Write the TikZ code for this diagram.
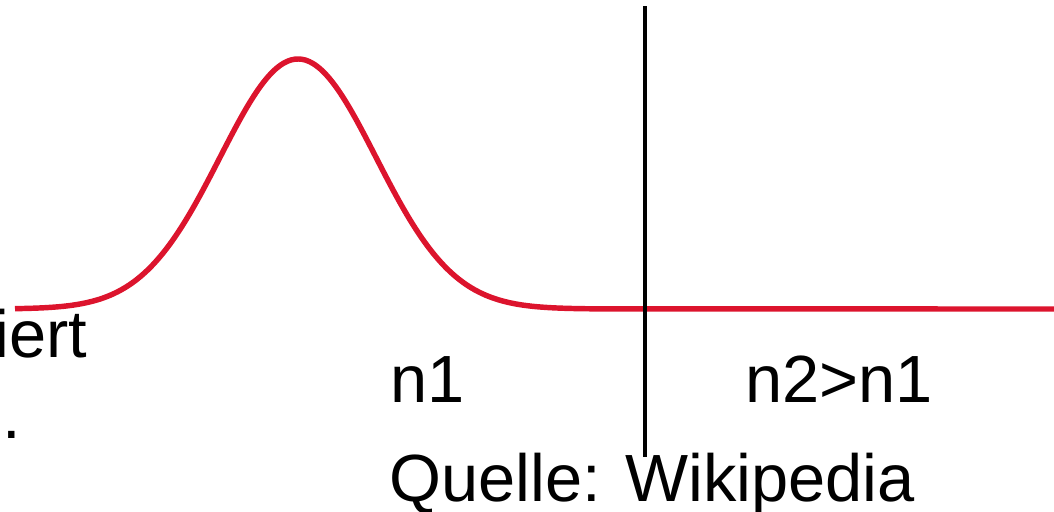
\documentclass[tikz,border=0pt]{standalone}
\usepackage{fontspec}
\setmainfont{Liberation Sans}
\usepackage{tikz}
\usetikzlibrary{positioning}
\definecolor{curvered}{RGB}{220,20,45}
\tikzset{
  curve/.style={
    draw=curvered,
    line width=3.1pt,
    line join=round
  },
  divider/.style={
    draw=black,
    line width=2.1pt
  },
  bigtext/.style={
    anchor=base west,
    inner sep=0pt,
    font=\fontsize{38}{45}\selectfont
  }
}

\begin{document}
\begin{tikzpicture}[x=0.02cm, y=-0.02cm]
    \useasboundingbox (0,0) rectangle (1054,511);
    \clip (0,0) rectangle (1054,511);

    % bell curve, then flat to the right edge
    \draw[curve] plot[domain=15:600, samples=160, smooth]
        (\x, {309-250*exp(-0.5*((\x-298)/78)^2)}) -- (1054,309);

    \coordinate (divtop) at (645,6);
    \coordinate (divbottom) at (645,457);
    \draw[divider] (divtop) -- (divbottom);

    \node[bigtext] (cutword) at (-6,357) {iert};
    \node[bigtext] (cutdot) at (2,438) {.};
    \node[bigtext] (none) at (390,402) {n1};
    \node[bigtext] (ntwo) at (745,402) {n2>n1};
    \node[bigtext] (source) at (389,501) {Quelle: Wikipedia};
\end{tikzpicture}
\end{document}
